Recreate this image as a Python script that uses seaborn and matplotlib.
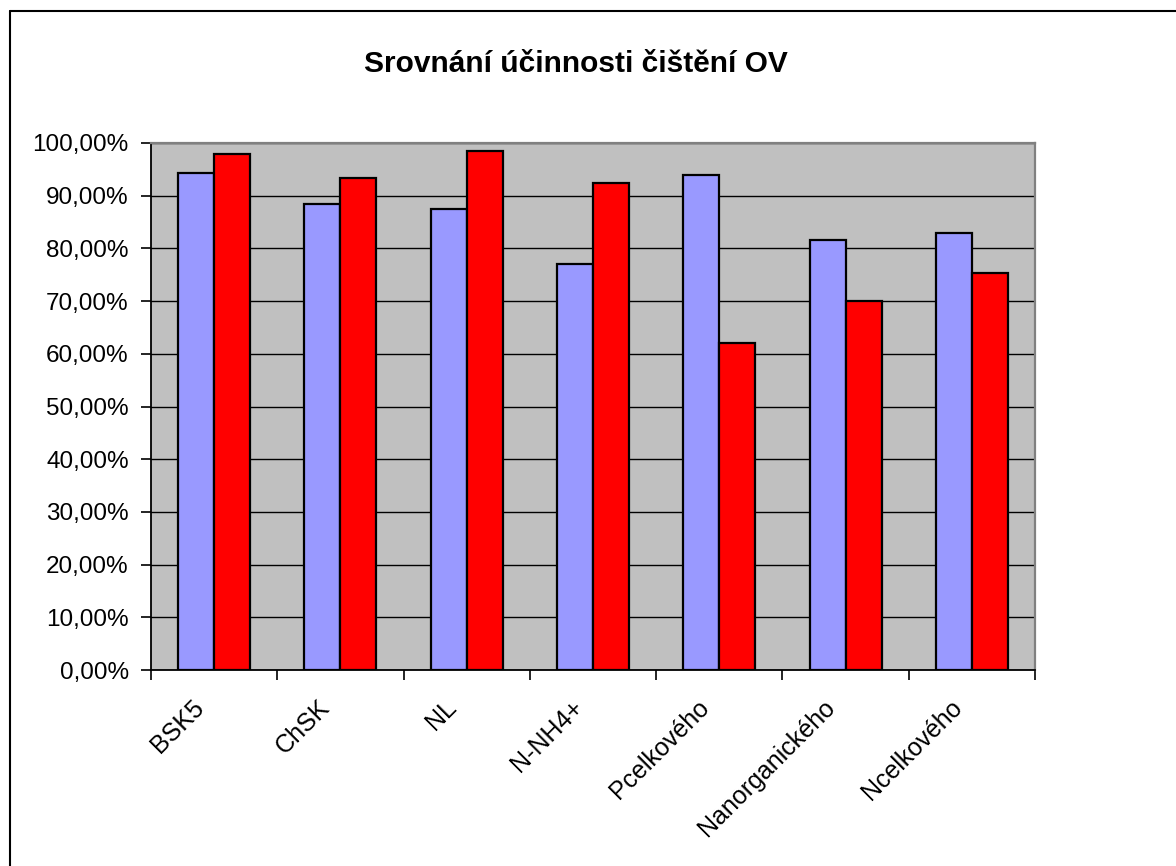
import matplotlib
matplotlib.use("Agg")
import matplotlib.pyplot as plt
import matplotlib.lines as mlines
from matplotlib.transforms import ScaledTranslation
from matplotlib.ticker import FixedLocator, FuncFormatter
import seaborn as sns
import pandas as pd

# Treatment efficiency by parameter (%)
categories = ["BSK5", "ChSK", "NL", "N-NH4+", "Pcelkového", "Nanorganického", "Ncelkového"]
series_names = ["řada 1", "řada 2"]
values_1 = [94.4, 88.5, 87.4, 77.1, 94.0, 81.5, 83.0]
values_2 = [98.0, 93.3, 98.4, 92.5, 62.1, 70.1, 75.3]
y_ticks = [0, 10, 20, 30, 40, 50, 60, 70, 80, 90, 100]
title = "Srovnání účinnosti čištění OV"

colors = ["#9999FF", "#FF0000"]

df = pd.DataFrame({
    "parametr": categories * 2,
    "řada": [series_names[0]] * len(categories) + [series_names[1]] * len(categories),
    "účinnost": values_1 + values_2,
})

sns.set_theme(style="white")
plt.rcParams["font.family"] = ["Liberation Sans", "DejaVu Sans"]

W, H, DPI = 1176, 866, 100
fig = plt.figure(figsize=(W / DPI, H / DPI), dpi=DPI)
ax = fig.add_axes([151 / W, 1 - 670 / H, (1035 - 151) / W, (670 - 143) / H])

sns.barplot(
    data=df, x="parametr", y="účinnost", hue="řada",
    order=categories, hue_order=series_names, palette=colors,
    width=0.57, gap=0, dodge=True, legend=False,
    edgecolor="black", linewidth=1.6, saturation=1, ax=ax,
)

ax.set_facecolor("#C0C0C0")
ax.set_xlim(-0.5, len(categories) - 0.5)
ax.set_ylim(0, 100)
ax.set_xlabel("")
ax.set_ylabel("")

# horizontal gridlines
ax.set_yticks(y_ticks)
ax.yaxis.set_major_formatter(FuncFormatter(lambda v, p: f"{v:.2f}".replace(".", ",") + "%"))
ax.grid(axis="y", color="black", linewidth=1.0)
ax.set_axisbelow(True)

# category boundaries get tick marks, labels sit on category centres
ax.xaxis.set_major_locator(FixedLocator([i - 0.5 for i in range(len(categories) + 1)]))
ax.xaxis.set_major_formatter(FuncFormatter(lambda v, p: ""))
ax.xaxis.set_minor_locator(FixedLocator(list(range(len(categories)))))
ax.set_xticklabels(categories, minor=True)
ax.tick_params(axis="x", which="major", direction="out", length=7, width=1.2, color="black", bottom=True)
ax.tick_params(axis="x", which="minor", length=0, pad=0, labelsize=18)
ax.tick_params(axis="y", direction="out", length=7, width=1.2, color="black", left=True, pad=9, labelsize=17.5, labelcolor="black")

offset = ScaledTranslation(-14 / DPI, -34 / DPI, fig.dpi_scale_trans)
for lab in ax.get_xticklabels(minor=True):
    lab.set_rotation(45)
    lab.set_ha("right")
    lab.set_va("center")
    lab.set_rotation_mode("anchor")
    lab.set_color("black")
    lab.set_transform(lab.get_transform() + offset)

for side in ["left", "bottom"]:
    ax.spines[side].set_color("black")
    ax.spines[side].set_linewidth(1.3)
for side in ["top", "right"]:
    ax.spines[side].set_color("#808080")
    ax.spines[side].set_linewidth(1.6)

fig.text(576 / W, 1 - 64 / H, title, ha="center", va="center",
         fontsize=21.5, fontweight="bold", color="black")

# chart area frame
fig.add_artist(mlines.Line2D([10 / W, 10 / W], [0, 1 - 11 / H], transform=fig.transFigure,
                             color="black", linewidth=1.5))
fig.add_artist(mlines.Line2D([10 / W, 1], [1 - 11 / H, 1 - 11 / H], transform=fig.transFigure,
                             color="black", linewidth=1.5))

fig.savefig("out.png", dpi=DPI, facecolor="white")
